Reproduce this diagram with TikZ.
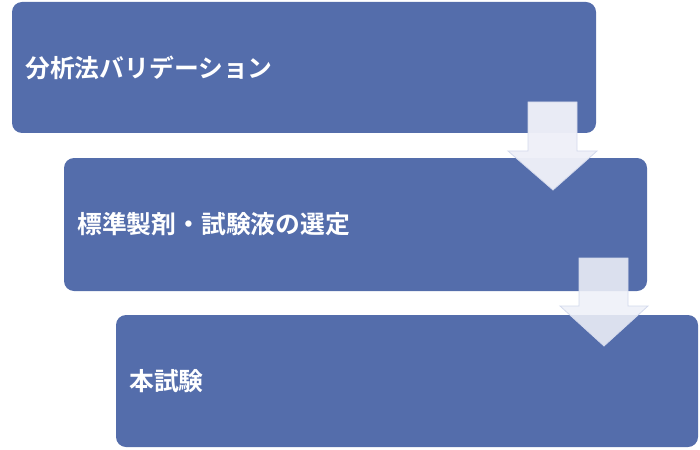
\documentclass[tikz,border=0pt]{standalone}
\usepackage{fontspec}
\newfontfamily\jpfont{Noto Sans CJK JP}[BoldFont={Noto Sans CJK JP Bold}]
\definecolor{boxblue}{HTML}{546DAB}
\definecolor{arrfill}{HTML}{EEF0F8}
\definecolor{arrline}{HTML}{D3D9EC}
\begin{document}
\begin{tikzpicture}[x=1pt,y=-1pt,
  stepbox/.style={fill=boxblue,rounded corners=10pt},
  steptext/.style={anchor=west,text=white,font=\jpfont\bfseries\fontsize{24.8}{28}\selectfont,inner sep=0pt},
  downarrow/.style={fill=arrfill,draw=arrline,line width=0.8pt}]
\useasboundingbox (0,0) rectangle (700,449);
\fill[stepbox] (12,2) rectangle (596,133);
\fill[stepbox] (64,158) rectangle (647,291);
\fill[stepbox] (116,315) rectangle (698,447);
\node[steptext] (t1) at (25,68) {分析法バリデーション};
\node[steptext] (t2) at (77,224) {標準製剤・試験液の選定};
\node[steptext] (t3) at (129,381) {本試験};
\draw[downarrow,fill opacity=0.97] (528,102) -- (577,102) -- (577,151) -- (597,151) -- (553,190) -- (508,151) -- (528,151) -- cycle;
\draw[downarrow,fill opacity=0.88] (579,258) -- (628,258) -- (628,306) -- (648,306) -- (604,346) -- (560,306) -- (579,306) -- cycle;
\end{tikzpicture}
\end{document}
